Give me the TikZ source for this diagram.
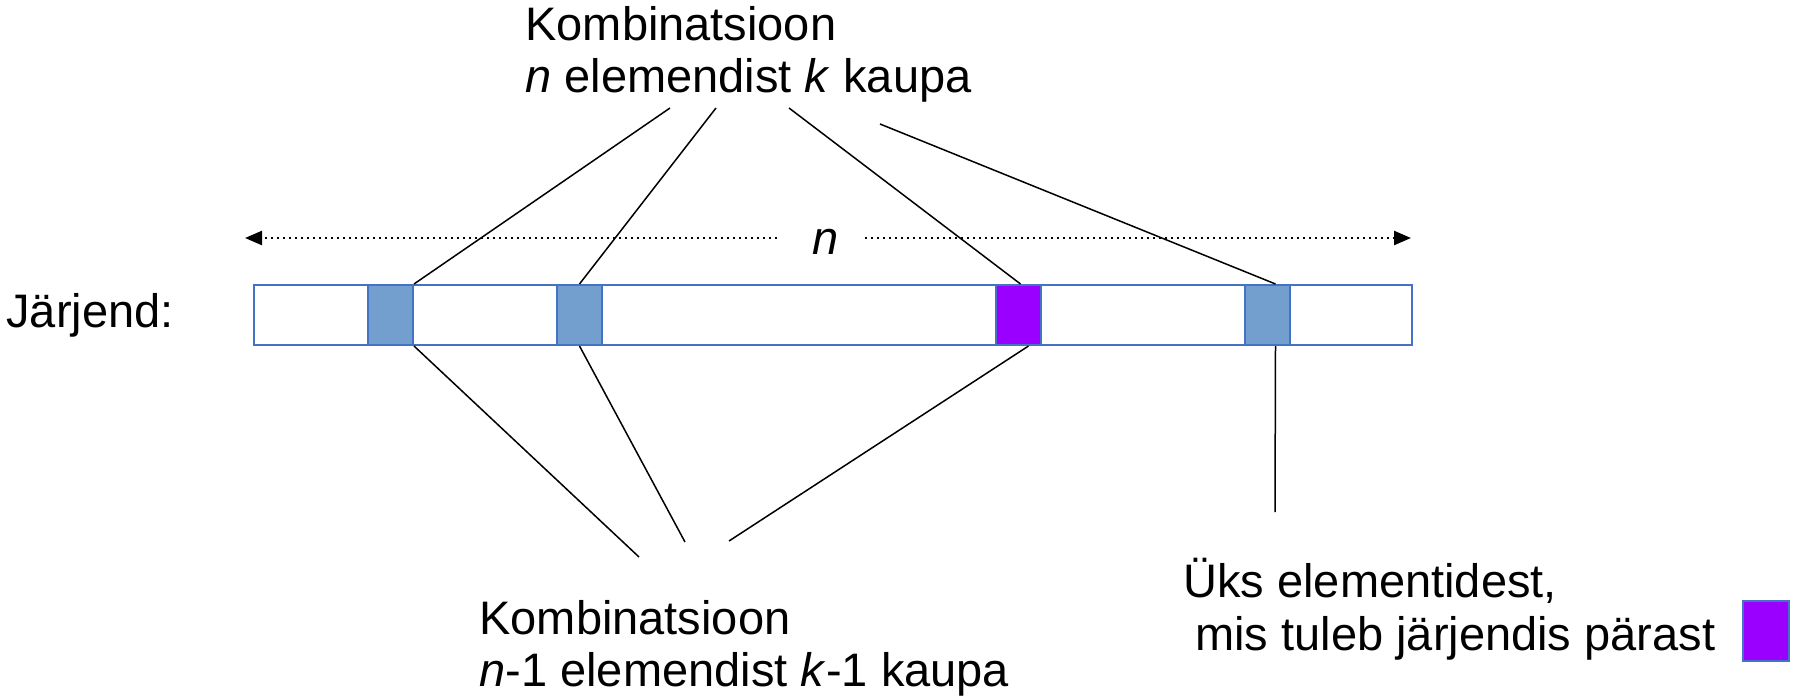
\documentclass[tikz,border=0pt]{standalone}
\usepackage{fontspec}
\setmainfont{Liberation Sans}
\usetikzlibrary{arrows.meta}
\definecolor{cellblue}{RGB}{115,159,207}
\definecolor{edgeblue}{RGB}{68,114,196}
\definecolor{markpurple}{RGB}{153,0,255}
\begin{document}
\begin{tikzpicture}[x=0.5pt,y=-0.5pt,
  txt/.style={inner sep=0pt, anchor=base west, font=\fontsize{23.5}{28}\selectfont},
  barbox/.style={draw=edgeblue, line width=1pt, fill=white, inner sep=0pt,
    minimum width=579pt, minimum height=30pt, anchor=north west},
  cell/.style={draw=edgeblue, line width=1pt, fill=cellblue, inner sep=0pt,
    minimum width=22.5pt, minimum height=30pt, anchor=north west},
  chosen/.style={cell, fill=markpurple},
  link/.style={draw=black, line width=0.75pt},
  span/.style={line width=1.2pt, dash pattern=on 1.2pt off 1.8pt,
    -{Triangle[length=8.5pt,width=7pt]}}]
\useasboundingbox (0,0) rectangle (1794,696);

% the list and its cells
\node[barbox] (bar) at (253,284) {};
\node[cell]   (c1) at (367,284) {};
\node[cell]   (c2) at (556,284) {};
\node[chosen] (c3) at (995,284) {};
\node[cell]   (c4) at (1244,284) {};
\node[txt] (lst) at (6,327) {Järjend:};

% length of the list
\node[txt] (len) at (812,254) {\itshape n};
\coordinate (lenL0) at (777,238);
\coordinate (lenL1) at (245,238);
\coordinate (lenR0) at (865,238);
\coordinate (lenR1) at (1411,238);
\draw[span] (lenL0) -- (lenL1);
\draw[span] (lenR0) -- (lenR1);

% upper caption
\node[txt] (top1) at (525,40) {Kombinatsioon};
\node[txt] (top2) at (525,92) {\textit{n} elemendist \textit{k} kaupa};
\coordinate (t1) at (670,108);
\coordinate (t2) at (716,108);
\coordinate (t3) at (789,108);
\coordinate (t4) at (880,124);
\draw[link] (t1) -- (c1.north east);
\draw[link] (t2) -- (c2.north);
\draw[link] (t3) -- ([xshift=1pt]c3.north);
\draw[link] (t4) -- ([xshift=4pt]c4.north);

% lower caption
\node[txt] (bot1) at (479,634) {Kombinatsioon};
\node[txt] (bot2) at (479,686) {\textit{n}-1 elemendist \textit{k}-1 kaupa};
\coordinate (b1) at (639,557);
\coordinate (b2) at (685,542);
\coordinate (b3) at (729,541);
\coordinate (b4) at (1275,512);
\draw[link] (c1.south east) -- (b1);
\draw[link] (c2.south) -- (b2);
\draw[link] ([xshift=5pt]c3.south) -- (b3);
\draw[link] ([xshift=4pt]c4.south) -- (b4);

% right caption
\node[txt] (rt1) at (1183,597) {Üks elementidest,};
\node[txt] (rt2) at (1195,650) {mis tuleb järjendis pärast};
\node[chosen, minimum width=23pt] (key) at (1742,600) {};
\end{tikzpicture}
\end{document}
